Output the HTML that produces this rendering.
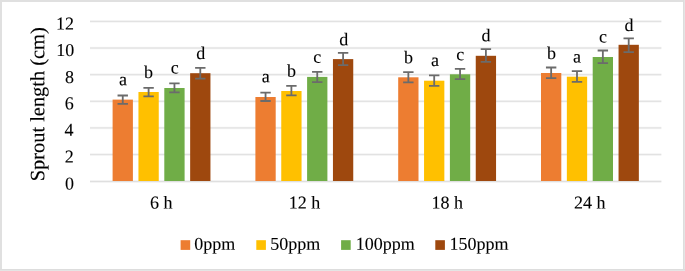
<!DOCTYPE html>
<html><head><meta charset="utf-8"><style>
html,body{margin:0;padding:0;background:#fff;width:685px;height:271px;overflow:hidden}
</style></head><body>
<svg width="685" height="271" viewBox="0 0 685 271" style="display:block;will-change:transform">
<rect x="0" y="0" width="685" height="271" fill="#fff"/>
<rect x="0" y="0" width="685" height="2" fill="#e0e0e0"/>
<rect x="0" y="0" width="2" height="271" fill="#e0e0e0"/>
<rect x="683" y="0" width="1" height="271" fill="#dddddd"/>
<rect x="684" y="0" width="1" height="271" fill="#e4e4e4"/>
<rect x="0" y="269" width="685" height="1" fill="#dddddd"/>
<rect x="0" y="270" width="685" height="1" fill="#e4e4e4"/>
<rect x="90.0" y="180" width="571.4" height="1" fill="rgb(243,243,243)"/>
<rect x="90.0" y="181" width="571.4" height="1" fill="rgb(223,223,223)"/>
<rect x="90.0" y="182" width="571.4" height="1" fill="rgb(244,244,244)"/>
<rect x="90.0" y="153" width="571.4" height="1" fill="rgb(246,246,246)"/>
<rect x="90.0" y="154" width="571.4" height="1" fill="rgb(226,226,226)"/>
<rect x="90.0" y="155" width="571.4" height="1" fill="rgb(244,244,244)"/>
<rect x="90.0" y="126" width="571.4" height="1" fill="rgb(252,252,252)"/>
<rect x="90.0" y="127" width="571.4" height="1" fill="rgb(231,231,231)"/>
<rect x="90.0" y="128" width="571.4" height="1" fill="rgb(235,235,235)"/>
<rect x="90.0" y="129" width="571.4" height="1" fill="rgb(253,253,253)"/>
<rect x="90.0" y="100" width="571.4" height="1" fill="rgb(240,240,240)"/>
<rect x="90.0" y="101" width="571.4" height="1" fill="rgb(227,227,227)"/>
<rect x="90.0" y="102" width="571.4" height="1" fill="rgb(249,249,249)"/>
<rect x="90.0" y="73" width="571.4" height="1" fill="rgb(248,248,248)"/>
<rect x="90.0" y="74" width="571.4" height="1" fill="rgb(227,227,227)"/>
<rect x="90.0" y="75" width="571.4" height="1" fill="rgb(241,241,241)"/>
<rect x="90.0" y="46" width="571.4" height="1" fill="rgb(253,253,253)"/>
<rect x="90.0" y="47" width="571.4" height="1" fill="rgb(233,233,233)"/>
<rect x="90.0" y="48" width="571.4" height="1" fill="rgb(232,232,232)"/>
<rect x="90.0" y="49" width="571.4" height="1" fill="rgb(252,252,252)"/>
<rect x="90.0" y="20" width="571.4" height="1" fill="rgb(243,243,243)"/>
<rect x="90.0" y="21" width="571.4" height="1" fill="rgb(226,226,226)"/>
<rect x="90.0" y="22" width="571.4" height="1" fill="rgb(247,247,247)"/>
<rect x="112.60" y="99.60" width="20.3" height="81.40" fill="#ED7D31"/>
<rect x="138.45" y="92.00" width="20.3" height="89.00" fill="#FFC000"/>
<rect x="164.30" y="88.00" width="20.3" height="93.00" fill="#70AD47"/>
<rect x="190.15" y="73.20" width="20.3" height="107.80" fill="#9E480E"/>
<rect x="255.40" y="97.00" width="20.3" height="84.00" fill="#ED7D31"/>
<rect x="281.25" y="91.00" width="20.3" height="90.00" fill="#FFC000"/>
<rect x="307.10" y="76.90" width="20.3" height="104.10" fill="#70AD47"/>
<rect x="332.95" y="59.10" width="20.3" height="121.90" fill="#9E480E"/>
<rect x="398.20" y="77.30" width="20.3" height="103.70" fill="#ED7D31"/>
<rect x="424.05" y="80.70" width="20.3" height="100.30" fill="#FFC000"/>
<rect x="449.90" y="74.30" width="20.3" height="106.70" fill="#70AD47"/>
<rect x="475.75" y="55.80" width="20.3" height="125.20" fill="#9E480E"/>
<rect x="541.00" y="73.00" width="20.3" height="108.00" fill="#ED7D31"/>
<rect x="566.85" y="76.70" width="20.3" height="104.30" fill="#FFC000"/>
<rect x="592.70" y="57.00" width="20.3" height="124.00" fill="#70AD47"/>
<rect x="618.55" y="44.80" width="20.3" height="136.20" fill="#9E480E"/>
<path d="M122.75 95.50V103.90M117.55 95.50H127.95M117.55 103.90H127.95" stroke="#6b6b6b" stroke-width="1.8" fill="none"/>
<path d="M148.60 87.90V96.40M143.40 87.90H153.80M143.40 96.40H153.80" stroke="#6b6b6b" stroke-width="1.8" fill="none"/>
<path d="M174.45 83.30V92.30M169.25 83.30H179.65M169.25 92.30H179.65" stroke="#6b6b6b" stroke-width="1.8" fill="none"/>
<path d="M200.30 67.85V78.70M195.10 67.85H205.50M195.10 78.70H205.50" stroke="#6b6b6b" stroke-width="1.8" fill="none"/>
<path d="M265.55 92.60V101.00M260.35 92.60H270.75M260.35 101.00H270.75" stroke="#6b6b6b" stroke-width="1.8" fill="none"/>
<path d="M291.40 85.90V95.40M286.20 85.90H296.60M286.20 95.40H296.60" stroke="#6b6b6b" stroke-width="1.8" fill="none"/>
<path d="M317.25 71.80V82.10M312.05 71.80H322.45M312.05 82.10H322.45" stroke="#6b6b6b" stroke-width="1.8" fill="none"/>
<path d="M343.10 52.90V65.10M337.90 52.90H348.30M337.90 65.10H348.30" stroke="#6b6b6b" stroke-width="1.8" fill="none"/>
<path d="M408.35 72.10V82.40M403.15 72.10H413.55M403.15 82.40H413.55" stroke="#6b6b6b" stroke-width="1.8" fill="none"/>
<path d="M434.20 75.40V85.80M429.00 75.40H439.40M429.00 85.80H439.40" stroke="#6b6b6b" stroke-width="1.8" fill="none"/>
<path d="M460.05 68.90V79.20M454.85 68.90H465.25M454.85 79.20H465.25" stroke="#6b6b6b" stroke-width="1.8" fill="none"/>
<path d="M485.90 49.20V61.80M480.70 49.20H491.10M480.70 61.80H491.10" stroke="#6b6b6b" stroke-width="1.8" fill="none"/>
<path d="M551.15 67.50V78.20M545.95 67.50H556.35M545.95 78.20H556.35" stroke="#6b6b6b" stroke-width="1.8" fill="none"/>
<path d="M577.00 71.20V81.90M571.80 71.20H582.20M571.80 81.90H582.20" stroke="#6b6b6b" stroke-width="1.8" fill="none"/>
<path d="M602.85 50.50V63.10M597.65 50.50H608.05M597.65 63.10H608.05" stroke="#6b6b6b" stroke-width="1.8" fill="none"/>
<path d="M628.70 38.30V52.10M623.50 38.30H633.90M623.50 52.10H633.90" stroke="#6b6b6b" stroke-width="1.8" fill="none"/>
<text transform="translate(74.02 189.57) rotate(0.05)" text-anchor="end" style="font-family:'Liberation Serif',serif;font-size:18px" fill="#000" stroke="#000" stroke-width="0.1">0</text>
<text transform="translate(73.74 162.54) rotate(0.05)" text-anchor="end" style="font-family:'Liberation Serif',serif;font-size:18px" fill="#000" stroke="#000" stroke-width="0.1">2</text>
<text transform="translate(73.60 135.84) rotate(0.05)" text-anchor="end" style="font-family:'Liberation Serif',serif;font-size:18px" fill="#000" stroke="#000" stroke-width="0.1">4</text>
<text transform="translate(73.72 109.15) rotate(0.05)" text-anchor="end" style="font-family:'Liberation Serif',serif;font-size:18px" fill="#000" stroke="#000" stroke-width="0.1">6</text>
<text transform="translate(73.94 82.94) rotate(0.05)" text-anchor="end" style="font-family:'Liberation Serif',serif;font-size:18px" fill="#000" stroke="#000" stroke-width="0.1">8</text>
<text transform="translate(74.21 56.03) rotate(0.05)" text-anchor="end" style="font-family:'Liberation Serif',serif;font-size:18px" fill="#000" stroke="#000" stroke-width="0.1">10</text>
<text transform="translate(74.01 29.44) rotate(0.05)" text-anchor="end" style="font-family:'Liberation Serif',serif;font-size:18px" fill="#000" stroke="#000" stroke-width="0.1">12</text>
<text transform="translate(122.99 85.18) rotate(0.05)" text-anchor="middle" style="font-family:'Liberation Serif',serif;font-size:18px" fill="#000" stroke="#000" stroke-width="0.1">a</text>
<text transform="translate(148.48 77.94) rotate(0.05)" text-anchor="middle" style="font-family:'Liberation Serif',serif;font-size:18px" fill="#000" stroke="#000" stroke-width="0.1">b</text>
<text transform="translate(174.74 73.48) rotate(0.05)" text-anchor="middle" style="font-family:'Liberation Serif',serif;font-size:18px" fill="#000" stroke="#000" stroke-width="0.1">c</text>
<text transform="translate(200.63 58.95) rotate(0.05)" text-anchor="middle" style="font-family:'Liberation Serif',serif;font-size:18px" fill="#000" stroke="#000" stroke-width="0.1">d</text>
<text transform="translate(265.83 82.22) rotate(0.05)" text-anchor="middle" style="font-family:'Liberation Serif',serif;font-size:18px" fill="#000" stroke="#000" stroke-width="0.1">a</text>
<text transform="translate(291.59 76.65) rotate(0.05)" text-anchor="middle" style="font-family:'Liberation Serif',serif;font-size:18px" fill="#000" stroke="#000" stroke-width="0.1">b</text>
<text transform="translate(317.23 62.86) rotate(0.05)" text-anchor="middle" style="font-family:'Liberation Serif',serif;font-size:18px" fill="#000" stroke="#000" stroke-width="0.1">c</text>
<text transform="translate(343.67 45.18) rotate(0.05)" text-anchor="middle" style="font-family:'Liberation Serif',serif;font-size:18px" fill="#000" stroke="#000" stroke-width="0.1">d</text>
<text transform="translate(408.59 63.20) rotate(0.05)" text-anchor="middle" style="font-family:'Liberation Serif',serif;font-size:18px" fill="#000" stroke="#000" stroke-width="0.1">b</text>
<text transform="translate(434.89 66.04) rotate(0.05)" text-anchor="middle" style="font-family:'Liberation Serif',serif;font-size:18px" fill="#000" stroke="#000" stroke-width="0.1">a</text>
<text transform="translate(460.21 60.19) rotate(0.05)" text-anchor="middle" style="font-family:'Liberation Serif',serif;font-size:18px" fill="#000" stroke="#000" stroke-width="0.1">c</text>
<text transform="translate(485.95 41.33) rotate(0.05)" text-anchor="middle" style="font-family:'Liberation Serif',serif;font-size:18px" fill="#000" stroke="#000" stroke-width="0.1">d</text>
<text transform="translate(551.59 58.91) rotate(0.05)" text-anchor="middle" style="font-family:'Liberation Serif',serif;font-size:18px" fill="#000" stroke="#000" stroke-width="0.1">b</text>
<text transform="translate(576.98 62.45) rotate(0.05)" text-anchor="middle" style="font-family:'Liberation Serif',serif;font-size:18px" fill="#000" stroke="#000" stroke-width="0.1">a</text>
<text transform="translate(603.04 42.50) rotate(0.05)" text-anchor="middle" style="font-family:'Liberation Serif',serif;font-size:18px" fill="#000" stroke="#000" stroke-width="0.1">c</text>
<text transform="translate(629.02 30.96) rotate(0.05)" text-anchor="middle" style="font-family:'Liberation Serif',serif;font-size:18px" fill="#000" stroke="#000" stroke-width="0.1">d</text>
<text transform="translate(161.33 208.61) rotate(0.05)" text-anchor="middle" style="font-family:'Liberation Serif',serif;font-size:18px" fill="#000" stroke="#000" stroke-width="0.1">6 h</text>
<text transform="translate(304.45 208.61) rotate(0.05)" text-anchor="middle" style="font-family:'Liberation Serif',serif;font-size:18px" fill="#000" stroke="#000" stroke-width="0.1">12 h</text>
<text transform="translate(447.35 208.61) rotate(0.05)" text-anchor="middle" style="font-family:'Liberation Serif',serif;font-size:18px" fill="#000" stroke="#000" stroke-width="0.1">18 h</text>
<text transform="translate(589.73 208.61) rotate(0.05)" text-anchor="middle" style="font-family:'Liberation Serif',serif;font-size:18px" fill="#000" stroke="#000" stroke-width="0.1">24 h</text>
<text transform="translate(44.32 104.26) rotate(-89.95)" text-anchor="middle" style="font-family:'Liberation Serif',serif;font-size:20.4px" fill="#000" stroke="#000" stroke-width="0.1">Sprout length (cm)</text>
<text transform="translate(194.20 249.71) rotate(0.05)" text-anchor="start" style="font-family:'Liberation Serif',serif;font-size:18px" fill="#000" stroke="#000" stroke-width="0.1">0ppm</text>
<text transform="translate(270.27 249.71) rotate(0.05)" text-anchor="start" style="font-family:'Liberation Serif',serif;font-size:18px" fill="#000" stroke="#000" stroke-width="0.1">50ppm</text>
<text transform="translate(355.69 249.71) rotate(0.05)" text-anchor="start" style="font-family:'Liberation Serif',serif;font-size:18px" fill="#000" stroke="#000" stroke-width="0.1">100ppm</text>
<text transform="translate(449.53 249.71) rotate(0.05)" text-anchor="start" style="font-family:'Liberation Serif',serif;font-size:18px" fill="#000" stroke="#000" stroke-width="0.1">150ppm</text>
<rect x="180.6" y="240.2" width="9.6" height="9.7" fill="#ED7D31"/>
<rect x="256.3" y="240.2" width="9.6" height="9.7" fill="#FFC000"/>
<rect x="341.1" y="240.2" width="9.6" height="9.7" fill="#70AD47"/>
<rect x="435.3" y="240.2" width="9.6" height="9.7" fill="#9E480E"/>
</svg>
</body></html>
